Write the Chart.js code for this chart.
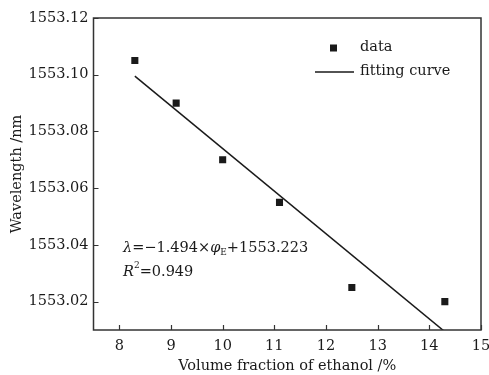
<!DOCTYPE html>
<html><head><meta charset="utf-8">
<script src="https://cdn.jsdelivr.net/npm/chart.js@4"></script>
<style>html,body{margin:0;padding:0;background:#fff}#wrap{width:489px;height:375px}</style>
</head><body><div id="wrap"><canvas id="c" width="489" height="375"></canvas></div>
<script>
const volumeFraction = [8.3, 9.1, 10, 11.1, 12.5, 14.3];
const wavelength = [1553.105, 1553.09, 1553.07, 1553.055, 1553.025, 1553.02];
const fitX = [8.3, 14.3];
const fitY = [1553.0995, 1553.0094];
const xTicks = [8, 9, 10, 11, 12, 13, 14, 15];
const yTicks = [1553.02, 1553.04, 1553.06, 1553.08, 1553.10, 1553.12];

const FONT = '"DejaVu Serif", "Liberation Serif", serif';
const FS = 14.5;
const INK = '#1a1a1a';

const decor = {
  id: 'decor',
  afterDraw(chart) {
    const ctx = chart.ctx, a = chart.chartArea;
    const xs = chart.scales.x, ys = chart.scales.y;
    ctx.save();
    ctx.strokeStyle = '#333';
    ctx.lineWidth = 1.5;
    ctx.strokeRect(a.left, a.top, a.right - a.left, a.bottom - a.top);
    ctx.lineWidth = 1.2;
    ctx.beginPath();
    xTicks.forEach(v => { const px = Math.round(xs.getPixelForValue(v)) + 0.5; ctx.moveTo(px, a.bottom); ctx.lineTo(px, a.bottom - 5); });
    yTicks.forEach(v => { const py = Math.round(ys.getPixelForValue(v)) + 0.5; ctx.moveTo(a.left, py); ctx.lineTo(a.left + 5, py); });
    ctx.stroke();

    // legend
    const ds = chart.data.datasets;
    ctx.fillStyle = INK;
    ctx.fillRect(330, 44.5, 7, 7);
    ctx.strokeStyle = INK; ctx.lineWidth = 1.5;
    ctx.beginPath(); ctx.moveTo(315, 72); ctx.lineTo(354, 72); ctx.stroke();
    ctx.font = FS + 'px ' + FONT;
    ctx.textBaseline = 'middle';
    ctx.fillText(ds[0].label, 360, 47);
    ctx.fillText(ds[1].label, 360, 71);

    // equation
    let x = 123, y = 248;
    const put = (t, f, dy) => { ctx.font = f; ctx.fillText(t, x, y + (dy || 0)); x += ctx.measureText(t).width; };
    const it = 'italic ' + FS + 'px ' + FONT, rg = FS + 'px ' + FONT, sm = '9px ' + FONT;
    put('λ', it); put('=−1.494×', rg); put('φ', it); put('E', sm, 5); put('+1553.223', rg);
    x = 123; y = 272;
    put('R', it); put('2', sm, -6); put('=0.949', rg);
    ctx.restore();
  }
};

new Chart(document.getElementById('c'), {
  type: 'scatter',
  data: {
    datasets: [
      { label: 'data', data: volumeFraction.map((v, i) => ({x: v, y: wavelength[i]})),
        pointStyle: 'rect', pointRadius: 5, pointHoverRadius: 5,
        backgroundColor: INK, borderColor: INK, borderWidth: 0 },
      { label: 'fitting curve', type: 'line', data: fitX.map((v, i) => ({x: v, y: fitY[i]})),
        showLine: true, pointRadius: 0, borderColor: INK, borderWidth: 1.5, fill: false, clip: 0 }
    ]
  },
  options: {
    responsive: false, animation: false,
    layout: { padding: { top: 18, right: 8, left: 0, bottom: 0 } },
    plugins: { legend: { display: false }, tooltip: { enabled: false } },
    scales: {
      x: {
        type: 'linear', min: 7.5, max: 15,
        afterBuildTicks: s => { s.ticks = xTicks.map(v => ({value: v})); },
        afterFit: s => { s.height = 45; s.paddingLeft = 0; s.paddingRight = 0; },
        grid: { display: false, drawTicks: false },
        border: { display: false },
        ticks: { color: INK, font: { family: FONT, size: FS }, padding: 8, maxRotation: 0,
                 callback: v => String(v) },
        title: { display: true, text: 'Volume fraction of ethanol /%', color: INK,
                 font: { family: FONT, size: FS }, padding: { top: 0, bottom: 0 } }
      },
      y: {
        type: 'linear', min: 1553.01, max: 1553.12,
        afterBuildTicks: s => { s.ticks = yTicks.map(v => ({value: v})); },
        afterFit: s => { s.width = 93.5; s.paddingTop = 0; s.paddingBottom = 0; },
        grid: { display: false, drawTicks: false },
        border: { display: false },
        ticks: { color: INK, font: { family: FONT, size: FS }, padding: 5,
                 callback: v => Number(v).toFixed(2) },
        title: { display: true, text: 'Wavelength /nm', color: INK,
                 font: { family: FONT, size: FS }, padding: { top: 9, bottom: 0 } }
      }
    }
  },
  plugins: [decor]
});
</script></body></html>
